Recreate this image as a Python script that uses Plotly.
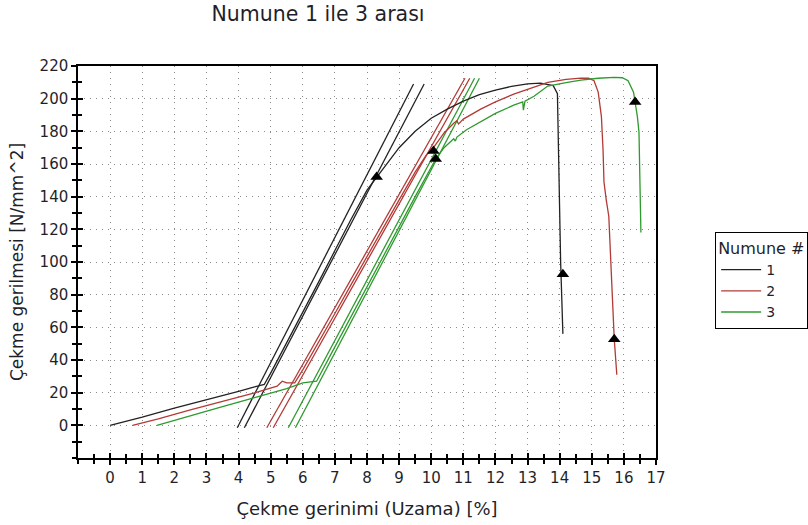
import plotly.graph_objects as go

# ---------------- data ----------------
series_names = ["1", "2", "3"]
series_colors = ["#222222", "#b23a36", "#2e9a2e"]

# specimen 1 (black)
strain_1 = [0.0, 1.0, 2.0, 3.0, 4.0, 4.5, 4.8, 5.0, 5.5, 6.0, 6.5, 7.0, 7.5, 8.0, 8.3,
            8.6, 9.0, 9.5, 10.0, 10.5, 11.0, 11.5, 12.0, 12.5, 13.0, 13.4, 13.8, 13.93,
            13.96, 13.99, 14.03, 14.07, 14.1]
stress_1 = [0.0, 5.0, 10.5, 15.5, 20.8, 23.5, 25.0, 32.0, 50.5, 69.0, 88.0, 107.0, 126.0, 144.0, 152.0,
            160.0, 170.0, 180.0, 188.0, 193.6, 198.5, 202.5, 205.3, 207.5, 209.0, 209.5, 208.0, 203.0,
            170.0, 130.0, 100.0, 75.0, 56.0]

# specimen 2 (red)
strain_2 = [0.7, 1.5, 2.5, 3.5, 4.5, 5.2, 5.36, 5.5, 5.75, 6.0, 6.5, 7.0, 7.5, 8.0, 8.5,
            9.0, 9.5, 9.85, 10.07, 10.4, 10.7, 10.8, 10.85, 11.0, 11.54, 12.0, 12.57, 13.1,
            13.63, 14.2, 14.66, 14.9, 15.07, 15.2, 15.3, 15.35, 15.38, 15.45, 15.53, 15.62,
            15.7, 15.78]
stress_2 = [0.0, 4.0, 9.5, 14.5, 19.8, 24.0, 27.0, 26.0, 26.0, 34.0, 51.0, 68.5, 86.0, 103.5, 121.0,
            138.0, 155.0, 165.5, 170.0, 179.0, 185.0, 186.5, 184.5, 187.5, 193.6, 198.0, 202.8, 206.5,
            210.0, 211.8, 212.6, 212.5, 211.0, 204.0, 189.0, 169.0, 149.0, 138.0, 128.0, 88.0,
            52.7, 31.0]

# specimen 3 (green)
strain_3 = [1.46, 2.5, 3.5, 4.5, 5.5, 6.0, 6.2, 6.43, 7.0, 7.5, 8.0, 8.5, 9.0, 9.5, 10.0,
            10.14, 10.4, 10.7, 10.75, 10.8, 11.1, 11.54, 12.0, 12.57, 12.85, 12.87, 12.92, 13.2,
            13.63, 14.2, 14.66, 15.2, 15.69, 15.95, 16.13, 16.3, 16.35, 16.42, 16.47, 16.5, 16.53]
stress_3 = [0.0, 6.0, 11.5, 17.0, 22.5, 26.0, 26.5, 27.0, 48.0, 66.5, 85.0, 103.0, 121.5, 140.0, 158.0,
            163.0, 170.0, 175.5, 174.0, 176.5, 181.0, 186.0, 191.0, 196.0, 198.0, 193.0, 198.5, 201.5,
            207.7, 209.8, 211.4, 212.5, 213.0, 212.8, 211.0, 204.0, 198.0, 189.0, 179.5, 150.0, 118.0]

# offset (modulus) lines: two per specimen, start / end points
offset_x_1 = [[3.96, 9.45], [4.18, 9.78]]
offset_y_1 = [[-1.5, 209.0], [-1.5, 209.0]]
offset_x_2 = [[4.88, 11.05], [5.08, 11.2]]
offset_y_2 = [[-1.5, 212.5], [-1.5, 212.5]]
offset_x_3 = [[5.55, 11.35], [5.77, 11.5]]
offset_y_3 = [[-1.5, 212.5], [-1.5, 212.5]]

# triangle markers
marker_x_1 = [8.3, 14.1]
marker_y_1 = [152.0, 92.5]
marker_x_2 = [10.07, 15.7]
marker_y_2 = [168.0, 52.7]
marker_x_3 = [10.14, 16.35]
marker_y_3 = [163.0, 198.0]

x_ticks = list(range(0, 18))
y_ticks = list(range(0, 221, 20))

# ---------------- figure ----------------
curves = [(strain_1, stress_1), (strain_2, stress_2), (strain_3, stress_3)]
offsets = [(offset_x_1, offset_y_1), (offset_x_2, offset_y_2), (offset_x_3, offset_y_3)]
markers = [(marker_x_1, marker_y_1), (marker_x_2, marker_y_2), (marker_x_3, marker_y_3)]

fig = go.Figure()
for name, color, (ox, oy) in zip(series_names, series_colors, offsets):
    for lx, ly in zip(ox, oy):
        fig.add_trace(go.Scatter(x=lx, y=ly, mode="lines", line=dict(color=color, width=1.3),
                                 showlegend=False, hoverinfo="skip"))
for name, color, (cx, cy) in zip(series_names, series_colors, curves):
    fig.add_trace(go.Scatter(x=cx, y=cy, mode="lines", name=name,
                             line=dict(color=color, width=1.3)))
for (mx, my) in markers:
    fig.add_trace(go.Scatter(x=mx, y=my, mode="markers", showlegend=False,
                             marker=dict(symbol="triangle-up", size=11, color="black")))

# invisible trace for overlay axes (inside ticks)
fig.add_trace(go.Scatter(x=[None], y=[None], xaxis="x2", yaxis="y2", showlegend=False))

font_family = "DejaVu Sans, Verdana, sans-serif"
text_color = "#1f1f2a"
axis_common = dict(showline=True, linecolor="black", linewidth=1.5, mirror=True,
                   ticks="outside", ticklen=5, tickwidth=1.5, tickcolor="black",
                   showgrid=True, gridcolor="#8a8a8a", griddash="1px,5px", gridwidth=1.2,
                   zeroline=False, automargin=False,
                   tickfont=dict(size=15, color=text_color, family=font_family))

fig.update_layout(
    width=808, height=525,
    paper_bgcolor="white", plot_bgcolor="white",
    margin=dict(l=78, r=152, t=66, b=67, autoexpand=False),
    font=dict(family=font_family, color=text_color),
    title=dict(text="Numune 1 ile 3 arası", x=0.3936, xanchor="center", y=0.973, yanchor="middle",
               font=dict(size=20.5, color=text_color, family=font_family)),
    xaxis=dict(range=[-1, 17], tickvals=x_ticks,
               minor=dict(dtick=0.5, tick0=0, ticks="outside", ticklen=4, tickwidth=1.5,
                          tickcolor="black", showgrid=False),
               title=dict(text="Çekme gerinimi (Uzama) [%]", font=dict(size=18, color=text_color),
                          standoff=17),
               **axis_common),
    yaxis=dict(range=[-20, 220], tickvals=y_ticks,
               minor=dict(dtick=10, tick0=0, ticks="outside", ticklen=4, tickwidth=1.5,
                          tickcolor="black", showgrid=False),
               title=dict(text="Çekme gerilmesi [N/mm^2]", font=dict(size=17, color=text_color),
                          standoff=12),
               **axis_common),
    xaxis2=dict(overlaying="x", range=[-1, 17], side="bottom", tickvals=x_ticks, ticks="inside",
                ticklen=5, tickwidth=1.5, tickcolor="black", showticklabels=False, showgrid=False,
                zeroline=False, showline=False,
                minor=dict(dtick=0.5, tick0=0, ticks="inside", ticklen=4, tickwidth=1.5,
                           tickcolor="black")),
    yaxis2=dict(overlaying="y", range=[-20, 220], side="left", tickvals=y_ticks, ticks="inside",
                ticklen=5, tickwidth=1.5, tickcolor="black", showticklabels=False, showgrid=False,
                zeroline=False, showline=False,
                minor=dict(dtick=10, tick0=0, ticks="inside", ticklen=4, tickwidth=1.5,
                           tickcolor="black")),
    legend=dict(title=dict(text="Numune #", font=dict(size=16, color=text_color)),
                x=1.102, xanchor="left", y=0.5765, yanchor="top",
                bordercolor="black", borderwidth=1.2, bgcolor="white",
                font=dict(size=14, color=text_color), tracegroupgap=0, itemwidth=40),
    showlegend=True,
)

fig.write_html("out.html", config={"displayModeBar": False},
               post_script="document.body.style.margin='0';")
